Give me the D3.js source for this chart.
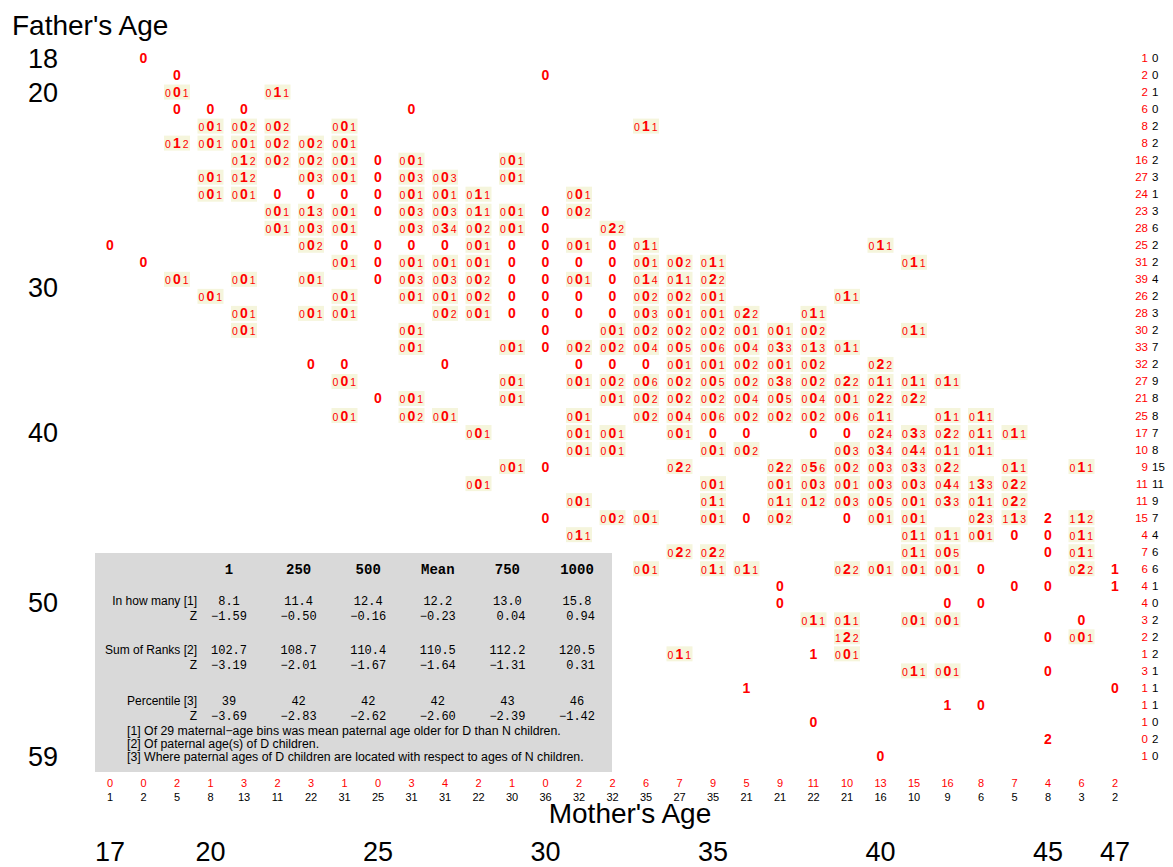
<!DOCTYPE html>
<html><head><meta charset="utf-8">
<script src="https://cdn.jsdelivr.net/npm/d3@7"></script>
<style>body{margin:0;background:#fff} svg{display:block} text{font-family:"Liberation Sans",Arial,sans-serif}</style>
</head><body>
<svg id="c" width="1173" height="867"></svg>
<script>
// ---------- DATA ----------
const motherAges = [17,18,19,20,21,22,23,24,25,26,27,28,29,30,31,32,33,34,35,36,37,38,39,40,41,42,43,44,45,46,47];
const fatherAges = [18,19,20,21,22,23,24,25,26,27,28,29,30,31,32,33,34,35,36,37,38,39,40,41,42,43,44,45,46,47,48,49,50,51,52,53,54,55,56,57,58,59];
const rightN = [1,2,2,6,8,8,16,27,24,23,28,25,31,39,26,28,30,33,32,27,21,25,17,10,9,11,11,15,4,7,6,4,4,3,2,1,3,1,1,1,0,1];
const rightD = [0,0,1,0,2,2,2,3,1,3,6,2,2,4,2,3,2,7,2,9,8,8,7,8,15,11,9,7,4,6,6,1,0,2,2,2,1,1,1,0,2,0];
const bottomN = [0,0,2,1,3,2,3,1,0,3,4,2,1,0,2,2,6,7,9,5,9,11,10,13,15,16,8,7,4,6,2];
const bottomD = [1,2,5,8,13,11,22,31,25,31,31,22,30,36,32,32,35,27,35,21,21,22,21,16,10,9,6,5,8,3,2];
const yTickLabels = [18,20,30,40,50,59];
const yTickAt = [18,20,31.5,40,50,59];   // where the original placed each label
const xTickLabels = [17,20,25,30,35,40,45,47];
// [father age, mother age, code]
const cells = [
[18,18,"0"],
[19,19,"0"],[19,30,"0"],
[20,19,"001"],[20,22,"011"],
[21,19,"0"],[21,20,"0"],[21,21,"0"],[21,26,"0"],
[22,20,"001"],[22,21,"002"],[22,22,"002"],[22,24,"001"],[22,33,"011"],
[23,19,"012"],[23,20,"001"],[23,21,"001"],[23,22,"002"],[23,23,"002"],[23,24,"001"],
[24,21,"012"],[24,22,"002"],[24,23,"002"],[24,24,"001"],[24,25,"0"],[24,26,"001"],[24,29,"001"],
[25,20,"001"],[25,21,"012"],[25,23,"003"],[25,24,"001"],[25,25,"0"],[25,26,"003"],[25,27,"003"],[25,29,"001"],
[26,20,"001"],[26,21,"001"],[26,22,"0"],[26,23,"0"],[26,24,"0"],[26,25,"0"],[26,26,"001"],[26,27,"001"],[26,28,"011"],[26,31,"001"],
[27,22,"001"],[27,23,"013"],[27,24,"001"],[27,25,"0"],[27,26,"003"],[27,27,"003"],[27,28,"011"],[27,29,"001"],[27,30,"0"],[27,31,"002"],
[28,22,"001"],[28,23,"003"],[28,24,"001"],[28,26,"003"],[28,27,"034"],[28,28,"002"],[28,29,"001"],[28,30,"0"],[28,32,"022"],
[29,17,"0"],[29,23,"002"],[29,24,"0"],[29,25,"0"],[29,26,"0"],[29,27,"0"],[29,28,"001"],[29,29,"0"],[29,30,"0"],[29,31,"001"],[29,32,"0"],[29,33,"011"],[29,40,"011"],
[30,18,"0"],[30,24,"001"],[30,25,"0"],[30,26,"001"],[30,27,"001"],[30,28,"001"],[30,29,"0"],[30,30,"0"],[30,31,"0"],[30,32,"0"],[30,33,"001"],[30,34,"002"],[30,35,"011"],[30,41,"011"],
[31,19,"001"],[31,21,"001"],[31,23,"001"],[31,25,"0"],[31,26,"003"],[31,27,"003"],[31,28,"002"],[31,29,"0"],[31,30,"0"],[31,31,"001"],[31,32,"0"],[31,33,"014"],[31,34,"011"],[31,35,"022"],
[32,20,"001"],[32,24,"001"],[32,26,"001"],[32,27,"001"],[32,28,"002"],[32,29,"0"],[32,30,"0"],[32,31,"0"],[32,32,"0"],[32,33,"002"],[32,34,"002"],[32,35,"001"],[32,39,"011"],
[33,21,"001"],[33,23,"001"],[33,24,"001"],[33,27,"002"],[33,28,"001"],[33,29,"0"],[33,30,"0"],[33,31,"0"],[33,32,"0"],[33,33,"003"],[33,34,"001"],[33,35,"001"],[33,36,"022"],[33,38,"011"],
[34,21,"001"],[34,26,"001"],[34,30,"0"],[34,32,"001"],[34,33,"002"],[34,34,"002"],[34,35,"002"],[34,36,"001"],[34,37,"001"],[34,38,"002"],[34,41,"011"],
[35,26,"001"],[35,29,"001"],[35,30,"0"],[35,31,"002"],[35,32,"002"],[35,33,"004"],[35,34,"005"],[35,35,"006"],[35,36,"004"],[35,37,"033"],[35,38,"013"],[35,39,"011"],
[36,23,"0"],[36,24,"0"],[36,27,"0"],[36,31,"0"],[36,32,"0"],[36,33,"0"],[36,34,"001"],[36,35,"001"],[36,36,"002"],[36,37,"001"],[36,38,"002"],[36,40,"022"],
[37,24,"001"],[37,29,"001"],[37,31,"001"],[37,32,"002"],[37,33,"006"],[37,34,"002"],[37,35,"005"],[37,36,"002"],[37,37,"038"],[37,38,"002"],[37,39,"022"],[37,40,"011"],[37,41,"011"],[37,42,"011"],
[38,25,"0"],[38,26,"001"],[38,29,"001"],[38,32,"001"],[38,33,"002"],[38,34,"002"],[38,35,"002"],[38,36,"004"],[38,37,"005"],[38,38,"004"],[38,39,"001"],[38,40,"022"],[38,41,"022"],
[39,24,"001"],[39,26,"002"],[39,27,"001"],[39,31,"001"],[39,33,"002"],[39,34,"004"],[39,35,"006"],[39,36,"002"],[39,37,"002"],[39,38,"002"],[39,39,"006"],[39,40,"011"],[39,42,"011"],[39,43,"011"],
[40,28,"001"],[40,31,"001"],[40,32,"001"],[40,34,"001"],[40,35,"0"],[40,36,"0"],[40,38,"0"],[40,39,"0"],[40,40,"024"],[40,41,"033"],[40,42,"022"],[40,43,"011"],[40,44,"011"],
[41,31,"001"],[41,32,"001"],[41,35,"001"],[41,36,"002"],[41,39,"003"],[41,40,"034"],[41,41,"044"],[41,42,"011"],[41,43,"011"],
[42,29,"001"],[42,30,"0"],[42,34,"022"],[42,37,"022"],[42,38,"056"],[42,39,"002"],[42,40,"003"],[42,41,"033"],[42,42,"022"],[42,44,"011"],[42,46,"011"],
[43,28,"001"],[43,35,"001"],[43,37,"001"],[43,38,"003"],[43,39,"001"],[43,40,"003"],[43,41,"003"],[43,42,"044"],[43,43,"133"],[43,44,"022"],
[44,31,"001"],[44,35,"011"],[44,37,"011"],[44,38,"012"],[44,39,"003"],[44,40,"005"],[44,41,"001"],[44,42,"033"],[44,43,"011"],[44,44,"022"],
[45,30,"0"],[45,32,"002"],[45,33,"001"],[45,35,"001"],[45,36,"0"],[45,37,"002"],[45,39,"0"],[45,40,"001"],[45,41,"001"],[45,43,"023"],[45,44,"113"],[45,45,"2"],[45,46,"112"],
[46,31,"011"],[46,41,"011"],[46,42,"011"],[46,43,"001"],[46,44,"0"],[46,45,"0"],[46,46,"011"],
[47,34,"022"],[47,35,"022"],[47,41,"011"],[47,42,"005"],[47,45,"0"],[47,46,"011"],
[48,33,"001"],[48,35,"011"],[48,36,"011"],[48,39,"022"],[48,40,"001"],[48,41,"001"],[48,42,"001"],[48,43,"0"],[48,46,"022"],[48,47,"1"],
[49,37,"0"],[49,44,"0"],[49,45,"0"],[49,47,"1"],
[50,37,"0"],[50,42,"0"],[50,43,"0"],
[51,38,"011"],[51,39,"011"],[51,41,"001"],[51,42,"001"],[51,46,"0"],
[52,39,"122"],[52,45,"0"],[52,46,"001"],
[53,34,"011"],[53,38,"1"],[53,39,"001"],
[54,41,"011"],[54,42,"001"],[54,45,"0"],
[55,36,"1"],[55,47,"0"],
[56,42,"1"],[56,43,"0"],
[57,38,"0"],
[58,45,"2"],
[59,40,"0"]
];
const tableHeads = ["1","250","500","Mean","750","1000"];
const rowLabels = ["In how many [1]","Z","Sum of Ranks [2]","Z","Percentile [3]","Z"];
const inHowMany = ["8.1","11.4","12.4","12.2","13.0","15.8"];
const inHowManyZ = ["\u22121.59","\u22120.50","\u22120.16","\u22120.23"," 0.04"," 0.94"];
const sumRanks = ["102.7","108.7","110.4","110.5","112.2","120.5"];
const sumRanksZ = ["\u22123.19","\u22122.01","\u22121.67","\u22121.64","\u22121.31"," 0.31"];
const percentile = ["39","42","42","42","43","46"];
const percentileZ = ["\u22123.69","\u22122.83","\u22122.62","\u22122.60","\u22122.39","\u22121.42"];
const footnotes = [
 "[1] Of 29 maternal\u2212age bins was mean paternal age older for D than N children.",
 "[2] Of paternal age(s) of D children.",
 "[3] Where paternal ages of D children are located with respect to ages of N children."
];

// ---------- DRAW ----------
const svg = d3.select("#c");
const RED = "#ff0000";
const x = d3.scaleLinear().domain([17,47]).range([110,1115]);
const y = d3.scaleLinear().domain([18,59]).range([58,756]);

// titles
svg.append("text").attr("x",12).attr("y",35).attr("font-size",28).text("Father's Age");
svg.append("text").attr("x",630).attr("y",823).attr("text-anchor","middle").attr("font-size",28).text("Mother's Age");

// left tick labels
svg.selectAll("text.ylab").data(yTickLabels).join("text").attr("class","ylab")
  .attr("x",43).attr("y",(d,i)=>y(yTickAt[i])+9.5).attr("text-anchor","middle").attr("font-size",27).text(d=>d);
// bottom tick labels
svg.selectAll("text.xlab").data(xTickLabels).join("text").attr("class","xlab")
  .attr("x",d=>x(d)).attr("y",861).attr("text-anchor","middle").attr("font-size",27).text(d=>d);

// table
const tg = svg.append("g");
tg.append("rect").attr("x",95).attr("y",553).attr("width",517).attr("height",219).attr("fill","#d9d9d9");
const tx = d3.scalePoint().domain(tableHeads).range([229,577]);
tg.selectAll("text.th").data(tableHeads).join("text").attr("class","th")
  .attr("x",d=>tx(d)).attr("y",574).attr("text-anchor","middle")
  .style("font-family","'Liberation Mono',monospace").attr("font-weight","bold").attr("font-size",14).text(d=>d);
const rowsY = [601,616,650,665,701,716];
const rowVals = [inHowMany,inHowManyZ,sumRanks,sumRanksZ,percentile,percentileZ];
rowLabels.forEach((lab,i)=>{
  tg.append("text").attr("x",197).attr("y",rowsY[i]+4).attr("text-anchor","end").attr("font-size",12).text(lab);
  tg.selectAll(null).data(rowVals[i]).join("text")
    .attr("x",(d,j)=>tx(tableHeads[j])).attr("y",rowsY[i]+4).attr("text-anchor","middle")
    .style("font-family","'Liberation Mono',monospace").style("white-space","pre").attr("font-size",12).text(d=>d);
});
tg.selectAll("text.fn").data(footnotes).join("text").attr("class","fn")
  .attr("x",127).attr("y",(d,i)=>735+i*13).attr("font-size",12.3).text(d=>d);

// cells
const cg = svg.append("g").selectAll("g").data(cells).join("g")
  .attr("transform",d=>`translate(${x(d[1])},${y(d[0])})`);
cg.filter(d=>d[2].length===3).append("rect")
  .attr("x",-13).attr("y",-7.5).attr("width",26).attr("height",15).attr("fill","#f5f5dc");
cg.each(function(d){
  const s = d[2], sel = d3.select(this);
  if (s.length===1) {
    sel.append("text").attr("text-anchor","middle").attr("y",5).attr("fill",RED)
      .attr("font-weight","bold").attr("font-size",14).text(s);
  } else {
    const parts = [[-9,s[0],false],[0,s[1],true],[8.6,s[2],false]];
    parts.forEach(p=>{
      sel.append("text").attr("x",p[0]).attr("y",5).attr("text-anchor","middle").attr("fill",RED)
        .attr("font-weight",p[2]?"bold":"normal").attr("font-size",p[2]?14:10.5).text(p[1]);
    });
  }
});

// right labels
svg.selectAll("text.rn").data(rightN).join("text").attr("class","rn")
  .attr("x",1148).attr("y",(d,i)=>y(fatherAges[i])+4).attr("text-anchor","end").attr("fill",RED).attr("font-size",11.5).text(d=>d);
svg.selectAll("text.rd").data(rightD).join("text").attr("class","rd")
  .attr("x",1152).attr("y",(d,i)=>y(fatherAges[i])+4).attr("fill","#000").attr("font-size",11.5).text(d=>d);
// bottom labels
svg.selectAll("text.bn").data(bottomN).join("text").attr("class","bn")
  .attr("x",(d,i)=>x(motherAges[i])).attr("y",786.5).attr("text-anchor","middle").attr("fill",RED).attr("font-size",11).text(d=>d);
svg.selectAll("text.bd").data(bottomD).join("text").attr("class","bd")
  .attr("x",(d,i)=>x(motherAges[i])).attr("y",800.5).attr("text-anchor","middle").attr("fill","#000").attr("font-size",11).text(d=>d);
</script>
</body></html>
